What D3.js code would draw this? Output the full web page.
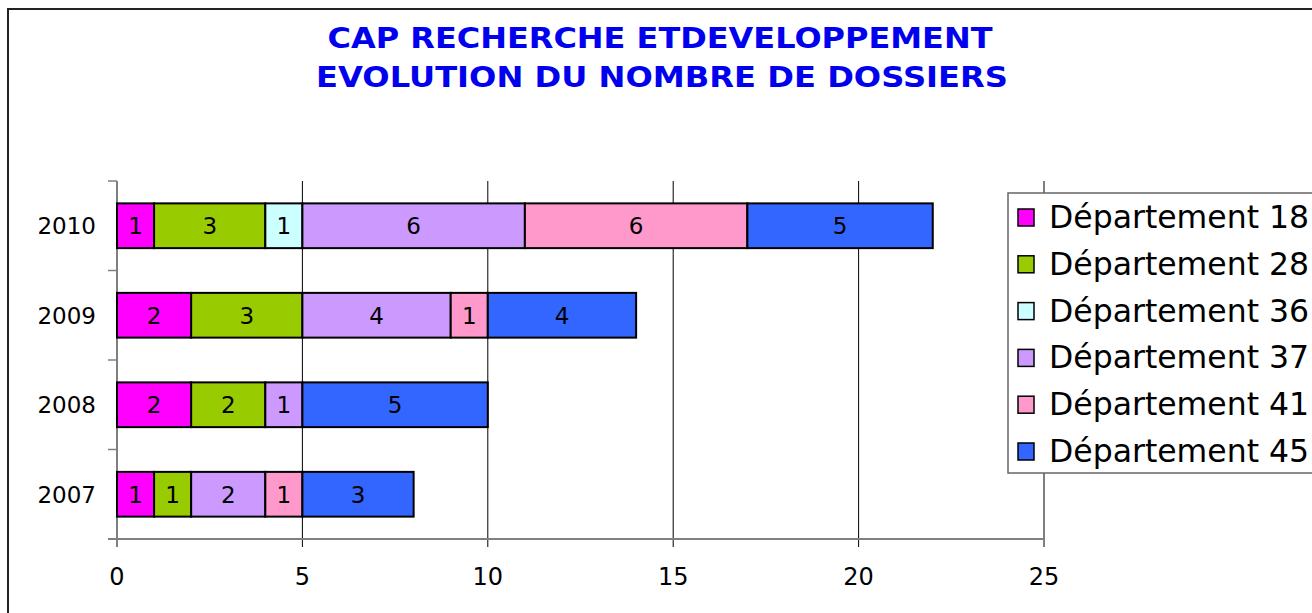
<!DOCTYPE html>
<html lang="fr">
<head>
  <meta charset="UTF-8">
  <title>CAP Recherche et Développement</title>
  <script src="https://d3js.org/d3.v7.min.js"></script>
  <style>
    body { margin: 0; background: #fff; }
    svg { display: block; font-family: "DejaVu Sans", Verdana, sans-serif; }
  </style>
</head>
<body>
  <div id="chart"></div>
  <script>
    const years = ['2010', '2009', '2008', '2007']
    const departements = ['Département 18', 'Département 28', 'Département 36', 'Département 37', 'Département 41', 'Département 45']
    const colors = ['#ff00ff', '#99cc00', '#ccffff', '#cc99ff', '#ff99cc', '#3366ff']
    // one array per département, in the order of years
    const dep18 = [1, 2, 2, 1]
    const dep28 = [3, 3, 2, 1]
    const dep36 = [1, 0, 0, 0]
    const dep37 = [6, 4, 1, 2]
    const dep41 = [6, 1, 0, 1]
    const dep45 = [5, 4, 5, 3]
    const xTicks = [0, 5, 10, 15, 20, 25]

    const series = [dep18, dep28, dep36, dep37, dep41, dep45]
    const rows = years.map((y, i) => {
      const r = { year: y }
      departements.forEach((d, j) => r[d] = series[j][i])
      return r
    })

    const width = 1312, height = 613
    const svg = d3.select('#chart').append('svg')
      .attr('width', width).attr('height', height)

    // outer frame
    svg.append('rect')
      .attr('x', 8).attr('y', 9)
      .attr('width', width + 20).attr('height', height + 20)
      .attr('fill', 'none').attr('stroke', '#222').attr('stroke-width', 2)

    svg.append('text')
      .attr('x', 660).attr('y', 48)
      .attr('text-anchor', 'middle')
      .attr('font-weight', 'bold').attr('font-size', 29)
      .attr('fill', '#0000ee')
      .attr('textLength', 665).attr('lengthAdjust', 'spacingAndGlyphs')
      .text('CAP RECHERCHE ETDEVELOPPEMENT')
    svg.append('text')
      .attr('x', 662).attr('y', 87)
      .attr('text-anchor', 'middle')
      .attr('font-weight', 'bold').attr('font-size', 29)
      .attr('fill', '#0000ee')
      .attr('textLength', 692).attr('lengthAdjust', 'spacingAndGlyphs')
      .text('EVOLUTION DU NOMBRE DE DOSSIERS')

    const x = d3.scaleLinear().domain([0, 25]).range([117, 1044])
    const y = d3.scaleBand().domain(years).range([181, 539])
      .paddingInner(0.5).paddingOuter(0.25)

    // vertical gridlines
    svg.append('g')
      .selectAll('line')
      .data(xTicks)
      .join('line')
      .attr('x1', d => x(d)).attr('x2', d => x(d))
      .attr('y1', 181).attr('y2', 547)
      .attr('stroke', '#000').attr('stroke-width', 1)

    // y axis ticks (between categories)
    const yTickPos = d3.range(years.length + 1).map(i => 181 + i * y.step())
    svg.append('g')
      .selectAll('line')
      .data(yTickPos)
      .join('line')
      .attr('x1', 108).attr('x2', 117)
      .attr('y1', d => d).attr('y2', d => d)
      .attr('stroke', '#808080').attr('stroke-width', 1.5)

    // x axis line
    svg.append('line')
      .attr('x1', 108).attr('x2', 1044)
      .attr('y1', 539).attr('y2', 539)
      .attr('stroke', '#808080').attr('stroke-width', 2)

    svg.append('g')
      .selectAll('text')
      .data(xTicks)
      .join('text')
      .attr('x', d => x(d)).attr('y', 585)
      .attr('text-anchor', 'middle')
      .attr('font-size', 24)
      .text(d => d)

    svg.append('g')
      .selectAll('text')
      .data(years)
      .join('text')
      .attr('x', 96).attr('y', d => y(d) + y.bandwidth() / 2 + 8.5)
      .attr('text-anchor', 'end')
      .attr('font-size', 23)
      .text(d => d)

    const stacked = d3.stack().keys(departements)(rows)

    const layers = svg.append('g')
      .selectAll('g')
      .data(stacked)
      .join('g')
      .attr('fill', (d, i) => colors[i])

    layers.selectAll('rect')
      .data(d => d.filter(s => s[1] > s[0]))
      .join('rect')
      .attr('x', d => x(d[0]))
      .attr('y', d => y(d.data.year))
      .attr('width', d => x(d[1]) - x(d[0]))
      .attr('height', y.bandwidth())
      .attr('stroke', '#000').attr('stroke-width', 2)

    layers.selectAll('text')
      .data(d => d.filter(s => s[1] > s[0]))
      .join('text')
      .attr('x', d => (x(d[0]) + x(d[1])) / 2)
      .attr('y', d => y(d.data.year) + y.bandwidth() / 2 + 8.5)
      .attr('text-anchor', 'middle')
      .attr('font-size', 23)
      .attr('fill', '#000')
      .text(d => d[1] - d[0])

    // legend
    const legend = svg.append('g')
    legend.append('rect')
      .attr('x', 1008).attr('y', 193)
      .attr('width', 340).attr('height', 280)
      .attr('fill', '#fff').attr('stroke', '#666').attr('stroke-width', 1.5)

    const item = legend.selectAll('g')
      .data(departements)
      .join('g')
      .attr('transform', (d, i) => `translate(0, ${228 + i * 46.8})`)
    item.append('rect')
      .attr('x', 1018).attr('y', -19)
      .attr('width', 16).attr('height', 17)
      .attr('fill', (d, i) => colors[i])
      .attr('stroke', '#000').attr('stroke-width', 1.5)
    item.append('text')
      .attr('x', 1049).attr('y', 0)
      .attr('font-size', 31.5)
      .text(d => d)
  </script>
</body>
</html>
